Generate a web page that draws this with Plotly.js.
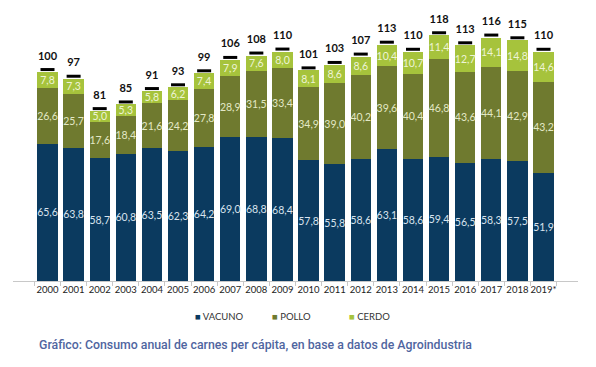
<!DOCTYPE html>
<html>
<head>
<meta charset="utf-8">
<script src="https://cdn.plot.ly/plotly-3.0.1.min.js"></script>
<style>
html,body{margin:0;padding:0;background:#fff;}
#chart{width:596px;height:367px;}
</style>
</head>
<body>
<div id="chart"></div>
<script>
const years = ["2000","2001","2002","2003","2004","2005","2006","2007","2008","2009","2010","2011","2012","2013","2014","2015","2016","2017","2018","2019*"];
const vacuno = [65.6,63.8,58.7,60.8,63.5,62.3,64.2,69.0,68.8,68.4,57.8,55.8,58.6,63.1,58.6,59.4,56.5,58.3,57.5,51.9];
const pollo  = [26.6,25.7,17.6,18.4,21.6,24.2,27.8,28.9,31.5,33.4,34.9,39.0,40.2,39.6,40.4,46.8,43.6,44.1,42.9,43.2];
const cerdo  = [7.8,7.3,5.0,5.3,5.8,6.2,7.4,7.9,7.6,8.0,8.1,8.6,8.6,10.4,10.7,11.4,12.7,14.1,14.8,14.6];
const totals = [100,97,81,85,91,93,99,106,108,110,101,103,107,113,110,118,113,116,115,110];
const seriesNames = ["VACUNO","POLLO","CERDO"];
const seriesColors = ["#0b3a5f","#6f7a2f","#a6c33c"];

const fmt = v => v.toFixed(1).replace('.', ',');
const labelFont = {family:"Lato, 'Open Sans', sans-serif", size:10.5};

function barTrace(name, vals, color, txtColor){
  return {
    type:'bar', name:name, x:years, y:vals,
    marker:{color:color, line:{color:'rgba(0,0,0,0)', width:0}},
    text: vals.map(fmt), textposition:'inside', insidetextanchor:'middle',
    textangle:0, constraintext:'none',
    textfont:Object.assign({color:txtColor}, labelFont),
    hoverinfo:'skip', showlegend:false
  };
}

const traces = [
  barTrace(seriesNames[0], vacuno, seriesColors[0], '#d9e3ee'),
  barTrace(seriesNames[1], pollo, seriesColors[1], '#e3e8c6'),
  barTrace(seriesNames[2], cerdo, seriesColors[2], '#eef4d6'),
  {
    type:'scatter', mode:'markers+text', x:years, y:totals.map((t,i)=>vacuno[i]+pollo[i]+cerdo[i]+1.2),
    marker:{symbol:'line-ew-open', size:10, line:{color:'#000', width:3}, color:'#000'},
    text: totals.map(String), textposition:'top center',
    textfont:{family:"Lato, 'Open Sans', sans-serif", size:11, color:'#111', weight:700},
    showlegend:false, hoverinfo:'skip', cliponaxis:false
  }
];

const legendX = [193, 270, 347];
const annotations = seriesNames.map((n,i)=>({
  text:'<span style="color:'+seriesColors[i]+'">■</span> '+n,
  xref:'paper', yref:'paper', x:(legendX[i]-13)/565, xanchor:'left',
  y:(367-86-316)/271, yanchor:'middle', showarrow:false,
  font:{family:"Lato, 'Open Sans', sans-serif", size:9.5, color:'#333'}
}));
annotations.push({
  text:'Gráfico: Consumo anual de carnes per cápita, en base a datos de Agroindustria',
  xref:'paper', yref:'paper', x:(37-13)/565, xanchor:'left', y:(367-86-345)/271, yanchor:'middle',
  showarrow:false, font:{family:"Roboto, sans-serif", size:12.3, color:'#4f65a0', weight:500}
});

const layout = {
  width:596, height:367,
  margin:{l:13, r:18, t:10, b:86},
  paper_bgcolor:'#fff', plot_bgcolor:'#fff',
  barmode:'stack', bargap:0.22,
  showlegend:false,
  xaxis:{type:'category', showgrid:false, zeroline:false, showline:true, linecolor:'#c8c8c8', linewidth:1,
         ticks:'outside', ticklen:4, tickcolor:'#c8c8c8', tickson:'boundaries', tickangle:0,
         tickfont:{family:"Lato, 'Open Sans', sans-serif", size:9.5, color:'#222'}, fixedrange:true},
  yaxis:{range:[0,129.7], visible:false, fixedrange:true},
  annotations:annotations
};

Plotly.newPlot('chart', traces, layout, {displayModeBar:false, staticPlot:true});
</script>
</body>
</html>
